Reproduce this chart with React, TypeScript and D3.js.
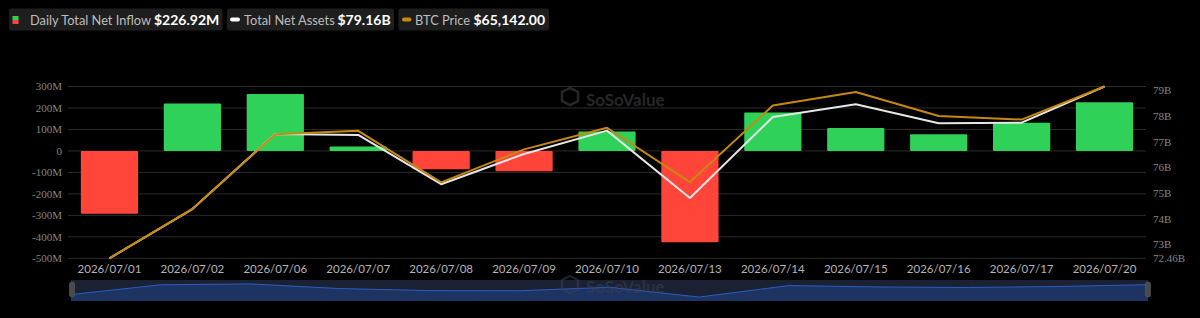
import React from 'react';
import * as d3 from 'd3';

const dates = [
  '2026/07/01', '2026/07/02', '2026/07/06', '2026/07/07', '2026/07/08', '2026/07/09', '2026/07/10',
  '2026/07/13', '2026/07/14', '2026/07/15', '2026/07/16', '2026/07/17', '2026/07/20',
];
// daily total net inflow, millions USD
const netInflow = [-293, 221, 265, 20.5, -85, -95, 90.5, -425, 179, 107, 78, 131, 226.92];
// total net assets, billions USD
const netAssets = [72.46, 74.38, 77.31, 77.27, 75.35, 76.53, 77.44, 74.81, 77.97, 78.47, 77.73, 77.75, 79.16];
// BTC price, USD
const btcPrice = [57200, 59480, 62940, 63095, 60710, 62236, 63234, 60725, 64260, 64888, 63779, 63613, 65142];

const leftTicks = [-500, -400, -300, -200, -100, 0, 100, 200, 300];
const rightTicks = [72.46, 73, 74, 75, 76, 77, 78, 79];

const W = 1200;
const H = 318;
const plotL = 68;
const plotR = 1146;
const plotT = 86.5;
const plotB = 258.3;

const GREEN = '#30d158';
const RED = '#ff453a';
const ORANGE = '#c8880f';
const WHITE = '#e6e6e6';

const fmtM = (v: number) => (v === 0 ? '0' : `${v}M`);
const fmtB = (v: number) => `${v}B`;

export default function App() {
  const x = d3.scaleBand<string>().domain(dates).range([plotL, plotR]).padding(0);
  const barW = x.bandwidth() * 0.69;
  const yL = d3.scaleLinear().domain([-500, 300]).range([plotB, plotT]);
  const yR = d3.scaleLinear().domain([72.46, 79.16]).range([plotB, plotT]);
  const yBtc = d3
    .scaleLinear()
    .domain(d3.extent(btcPrice) as [number, number])
    .range([plotB, plotT]);
  const cx = (d: string) => (x(d) as number) + x.bandwidth() / 2;

  const assetsLine = d3
    .line<number>()
    .x((_, i) => cx(dates[i]))
    .y((v) => yR(v))(netAssets);
  const btcLine = d3
    .line<number>()
    .x((_, i) => cx(dates[i]))
    .y((v) => yBtc(v))(btcPrice);

  // dataZoom slider with data shadow of the bar series
  const sL = 71;
  const sR = 1148;
  const sT = 280;
  const sB = 301;
  const ext = d3.extent(netInflow) as [number, number];
  const off = (ext[1] - ext[0]) * 0.3;
  const sx = d3.scaleLinear().domain([0, dates.length - 1]).range([sL, sR]);
  const sy = d3.scaleLinear().domain([ext[0] - off, ext[1] + off]).range([sB, sT]);
  const shadowArea = d3
    .area<number>()
    .x((_, i) => sx(i))
    .y0(sB)
    .y1((v) => sy(v))(netInflow);
  const shadowLine = d3
    .line<number>()
    .x((_, i) => sx(i))
    .y((v) => sy(v))(netInflow);

  const legendFont = 'Lato, "Open Sans", sans-serif';

  return (
    <div style={{ position: 'absolute', left: 0, top: 0, width: W, height: H, background: '#000' }}>
      <svg width={W} height={H} style={{ display: 'block' }}>
        <rect width={W} height={H} fill="#000" />

        {/* legend */}
        <g fontFamily={legendFont} fontSize={12.8}>
          <rect x={9} y={8.5} width={213.5} height={22} rx={3} fill="#1e1e1e" />
          <rect x={12.5} y={16} width={6} height={4} fill={GREEN} />
          <rect x={12.5} y={20} width={6} height={4} fill={RED} />
          <text x={30} y={24.5} fill="#bdbdbd">Daily Total Net Inflow</text>
          <text x={154} y={24.5} fill="#fff" fontWeight="bold" fontSize={14}>$226.92M</text>

          <rect x={227} y={8.5} width={167} height={22} rx={3} fill="#1e1e1e" />
          <rect x={230} y={17.5} width={10} height={4} rx={2} fill="#fff" />
          <text x={244} y={24.5} fill="#bdbdbd">Total Net Assets</text>
          <text x={337.5} y={24.5} fill="#fff" fontWeight="bold" fontSize={14}>$79.16B</text>

          <rect x={398.5} y={8.5} width={150.5} height={22} rx={3} fill="#1e1e1e" />
          <rect x={402} y={17.5} width={9.5} height={4} rx={2} fill={ORANGE} />
          <text x={415} y={24.5} fill="#bdbdbd">BTC Price</text>
          <text x={473.5} y={24.5} fill="#fff" fontWeight="bold" fontSize={14}>$65,142.00</text>
        </g>

        {/* grid */}
        {leftTicks.map((t) => (
          <line key={t} x1={plotL} x2={plotR} y1={yL(t)} y2={yL(t)} stroke="#2b2b2b" strokeWidth={1} />
        ))}

        {/* watermark */}
        <g opacity={0.9}>
          <text x={586} y={106} fill="#2c2c2c" fontFamily={legendFont} fontSize={17} fontWeight="bold">SoSoValue</text>
          <path d="M562 92 l8 -4 l8 4 v9 l-8 4 l-8 -4 z" fill="none" stroke="#2c2c2c" strokeWidth={2.5} />
        </g>

        {/* left axis */}
        <g fontFamily="serif" fontSize={11} fill="#858585" textAnchor="end">
          {leftTicks.map((t) => (
            <text key={t} x={62} y={yL(t)} dy="0.35em">{fmtM(t)}</text>
          ))}
        </g>
        {/* right axis */}
        <g fontFamily="serif" fontSize={11} fill="#858585" textAnchor="start">
          {rightTicks.map((t) => (
            <text key={t} x={1153} y={yR(t)} dy="0.35em">{fmtB(t)}</text>
          ))}
        </g>

        {/* bars */}
        {netInflow.map((v, i) => (
          <rect
            key={dates[i]}
            x={cx(dates[i]) - barW / 2}
            y={Math.min(yL(v), yL(0))}
            width={barW}
            height={Math.abs(yL(v) - yL(0))}
            rx={1}
            fill={v >= 0 ? GREEN : RED}
          />
        ))}

        {/* lines */}
        <path d={assetsLine as string} fill="none" stroke={WHITE} strokeWidth={2} strokeLinejoin="round" />
        <path d={btcLine as string} fill="none" stroke={ORANGE} strokeWidth={2} strokeLinejoin="round" />

        {/* x axis labels */}
        <g fontFamily={legendFont} fontSize={11.5} fill="#b4b4b4" textAnchor="middle">
          {dates.map((d) => (
            <text key={d} x={cx(d)} y={269} dy="0.35em">{d}</text>
          ))}
        </g>

        {/* data zoom */}
        <rect x={sL} y={sT} width={sR - sL} height={sB - sT} fill="#1a2133" />
        <path d={shadowArea as string} fill="#1d3462" />
        <path d={shadowLine as string} fill="none" stroke="#2c5cc0" strokeWidth={1} />
        <g opacity={0.5}>
          <text x={586} y={293} fill="#3a4150" fontFamily={legendFont} fontSize={17} fontWeight="bold">SoSoValue</text>
          <path d="M562 280 l8 -4 l8 4 v9 l-8 4 l-8 -4 z" fill="none" stroke="#3a4150" strokeWidth={2.5} />
        </g>
        <rect x={69.5} y={282} width={5} height={15} rx={2} fill="#4a4a4a" stroke="#666" strokeWidth={0.5} />
        <rect x={1145.5} y={282} width={5} height={15} rx={2} fill="#4a4a4a" stroke="#666" strokeWidth={0.5} />
      </svg>
    </div>
  );
}
